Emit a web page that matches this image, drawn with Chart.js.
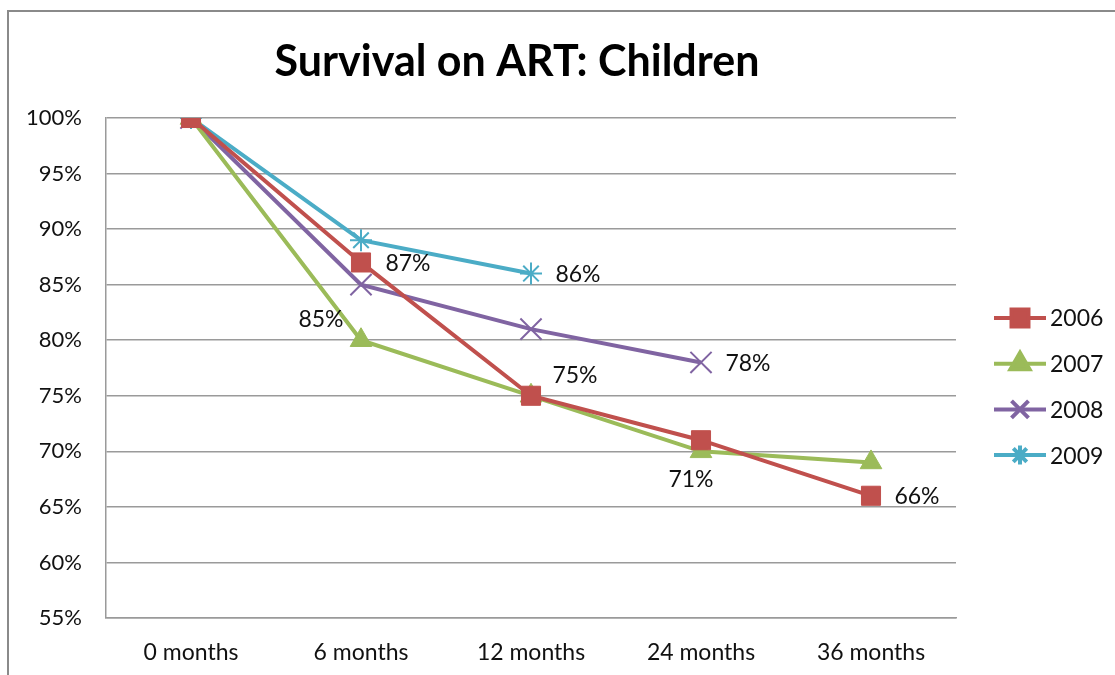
<!DOCTYPE html>
<html>
<head>
<meta charset="utf-8">
<script src="https://cdn.jsdelivr.net/npm/chart.js@4/dist/chart.umd.min.js"></script>
<style>
  html,body{margin:0;padding:0;background:#fff;}
  #wrap{width:1115px;height:675px;position:relative;}
</style>
</head>
<body>
<div id="wrap"><canvas id="c" width="1115" height="675"></canvas></div>
<script>
/* Survival on ART: Children */
const categories = ['0 months','6 months','12 months','24 months','36 months'];
const s2006 = [100, 87, 75, 71, 66];
const s2007 = [100, 80, 75, 70, 69];
const s2008 = [100, 85, 81, 78, null];
const s2009 = [100, 89, 86, null, null];
const yTicks = [55, 60, 65, 70, 75, 80, 85, 90, 95, 100];

// which points get a value label: [dataset, index, dx (centre), dy]
const shownLabels = [
  [0, 1, 47, 1],
  [2, 1, -40, 35],
  [3, 2, 47, 1],
  [0, 2, 44, -20],
  [2, 3, 47, 1],
  [0, 3, -10, 39],
  [0, 4, 46, 1]
];

const FONT = 'Lato, Carlito, "Liberation Sans", sans-serif';
const series = [
  {label:'2006', data:s2006, color:'#C0504D', style:'rect',    r:13.5, lr:12,  bw:1},
  {label:'2007', data:s2007, color:'#9BBB59', style:'triangle',r:12.5, lr:11,  bw:1},
  {label:'2008', data:s2008, color:'#8064A2', style:'crossRot',r:15,   lr:12,  bw:2},
  {label:'2009', data:s2009, color:'#4BACC6', style:'star',    r:11,   lr:9.5, bw:2}
];

const extras = {
  id:'extras',
  beforeDraw(chart){
    const ctx = chart.ctx;
    ctx.save();
    ctx.fillStyle = '#fff';
    ctx.fillRect(0,0,chart.width,chart.height);
    ctx.strokeStyle = '#8a8a8a';
    ctx.lineWidth = 2;
    ctx.strokeRect(8, 11, 1200, 800);
    ctx.restore();
  },
  afterDatasetsDraw(chart){
    const ctx = chart.ctx;
    ctx.save();
    // title
    ctx.fillStyle = '#000';
    ctx.font = 'bold 43px ' + FONT;
    ctx.textAlign = 'center';
    ctx.textBaseline = 'middle';
    ctx.fillText('Survival on ART: Children', 517, 62);
    // value labels
    ctx.font = '23px ' + FONT;
    ctx.fillStyle = '#111';
    shownLabels.forEach(([d,i,dx,dy])=>{
      const pt = chart.getDatasetMeta(d).data[i];
      const v = chart.data.datasets[d].data[i];
      ctx.fillText(v + '%', pt.x + dx, pt.y + dy);
    });
    // legend
    ctx.textAlign = 'left';
    series.forEach((s,k)=>{
      const y = 318 + k*45.7;
      ctx.strokeStyle = s.color;
      ctx.lineWidth = 4;
      ctx.beginPath(); ctx.moveTo(994,y); ctx.lineTo(1046,y); ctx.stroke();
      ctx.fillStyle = s.color; ctx.strokeStyle = s.color;
      Chart.helpers.drawPoint(ctx, {pointStyle:s.style, radius:s.lr, borderWidth:1}, 1020, y);
      ctx.fillStyle = '#111';
      ctx.fillText(s.label, 1050, y+1);
    });
    ctx.restore();
  }
};

new Chart(document.getElementById('c'), {
  type:'line',
  data:{
    labels:categories,
    datasets:series.map(s=>({
      label:s.label, data:s.data,
      borderColor:s.color, backgroundColor:s.color,
      borderWidth:4, tension:0,
      pointStyle:s.style, pointRadius:s.r, pointHoverRadius:s.r,
      pointBorderWidth:s.bw,
      pointBorderColor:s.color, pointBackgroundColor:s.color
    }))
  },
  options:{
    responsive:false, animation:false,
    layout:{padding:{top:118, left:0, right:159, bottom:0}},
    plugins:{legend:{display:false}, title:{display:false}, tooltip:{enabled:false}},
    scales:{
      x:{
        offset:true,
        grid:{display:false, drawTicks:false},
        border:{display:true, color:'#9a9a9a', width:1.5},
        ticks:{color:'#111', font:{family:FONT, size:23}, padding:21, maxRotation:0},
        afterFit:s=>{ s.height = 57; }
      },
      y:{
        min:55, max:100,
        afterBuildTicks:s=>{ s.ticks = yTicks.map(v=>({value:v})); },
        grid:{color:'#9a9a9a', lineWidth:1.5, drawTicks:false},
        border:{display:true, color:'#9a9a9a', width:1.5},
        ticks:{color:'#111', font:{family:FONT, size:22}, padding:24, callback:v=>v+'%'},
        afterFit:s=>{ s.width = 106; }
      }
    }
  },
  plugins:[extras]
});
</script>
</body>
</html>
